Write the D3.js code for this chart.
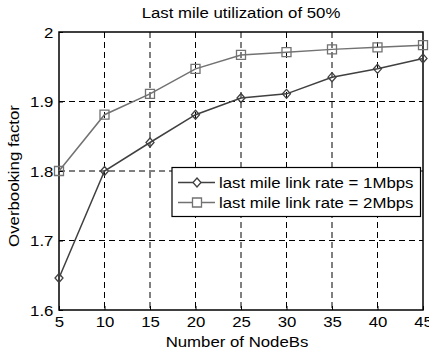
<!DOCTYPE html>
<html><head><meta charset="utf-8">
<script src="https://cdn.jsdelivr.net/npm/d3@7"></script>
<style>body{margin:0;background:#fff;} text{font-family:"Liberation Sans",Arial,sans-serif;}</style>
</head><body>
<svg id="c" width="429" height="353"></svg>
<script>
const nodeBs = [5,10,15,20,25,30,35,40,45];
const rate1Mbps = [1.646,1.800,1.841,1.881,1.905,1.911,1.935,1.947,1.962];
const rate2Mbps = [1.800,1.881,1.911,1.947,1.967,1.971,1.975,1.978,1.981];
const xTicks = [5,10,15,20,25,30,35,40,45];
const yTicks = [1.6,1.7,1.8,1.9,2.0];
const seriesNames = ["last mile link rate = 1Mbps","last mile link rate = 2Mbps"];

const SX = 1.12, FS = 15;
const svg = d3.select("#c");
const L=59,R=423,T=32,B=310;
const x = d3.scaleLinear().domain([5,45]).range([L,R]);
const y = d3.scaleLinear().domain([1.6,2.0]).range([B,T]);

svg.append("rect").attr("width",429).attr("height",353).attr("fill","#fff");

// grid
const g = svg.append("g");
xTicks.slice(1,-1).forEach(t=>g.append("line").attr("x1",x(t)).attr("x2",x(t)).attr("y1",T).attr("y2",B)
  .attr("stroke","#000").attr("stroke-width",1).attr("stroke-dasharray","6,4"));
yTicks.slice(1,-1).forEach(t=>g.append("line").attr("x1",L).attr("x2",R).attr("y1",y(t)).attr("y2",y(t))
  .attr("stroke","#000").attr("stroke-width",1).attr("stroke-dasharray","6,4"));

// axes
const xa = svg.append("g").attr("transform",`translate(0,${B})`).call(d3.axisBottom(x).tickValues(xTicks).tickSize(-4).tickSizeOuter(0).tickFormat(d3.format("d")));
const ya = svg.append("g").attr("transform",`translate(${L},0)`).call(d3.axisLeft(y).tickValues(yTicks).tickSize(-4).tickSizeOuter(0).tickFormat(d=>d===2?"2":d3.format(".1f")(d)));
[xa,ya].forEach(a=>{a.select(".domain").remove();a.selectAll("line").attr("stroke","#000");a.selectAll("text").attr("font-size",FS).attr("fill","#000").attr("font-family","Liberation Sans, Arial, sans-serif").attr("transform",`scale(${SX},1)`);});
xa.selectAll("text").attr("dy","0.35em").attr("y",12);
ya.selectAll("text").attr("x",-5).attr("dy","0.35em");
svg.append("rect").attr("x",L).attr("y",T).attr("width",R-L).attr("height",B-T).attr("fill","none").attr("stroke","#000").attr("stroke-width",1.5);

const colors = ["#404040","#727272"];
const line = d3.line().x((d,i)=>x(nodeBs[i])).y(d=>y(d));
const diamond = (cx,cy)=>`M${cx},${cy-4.5}L${cx+4},${cy}L${cx},${cy+4.5}L${cx-4},${cy}Z`;
const square = (cx,cy)=>`M${cx-4.5},${cy-4.5}h9v9h-9Z`;
[[rate1Mbps,diamond],[rate2Mbps,square]].forEach(([data,mk],k)=>{
  svg.append("path").datum(data).attr("d",line).attr("fill","none").attr("stroke",colors[k]).attr("stroke-width",1.5);
  data.forEach((d,i)=>svg.append("path").attr("d",mk(x(nodeBs[i]),y(d))).attr("fill","none").attr("stroke",colors[k]).attr("stroke-width",1.3));
});

function txt(px,py,s,anchor,rot){
  const tr = rot ? `translate(${px},${py}) rotate(-90) scale(${SX},1)` : `translate(${px},${py}) scale(${SX},1)`;
  return svg.append("text").attr("transform",tr).attr("text-anchor",anchor).attr("dy","0.35em").attr("font-size",FS).text(s);
}

// legend
svg.append("rect").attr("x",172).attr("y",167.5).attr("width",248.5).attr("height",49).attr("fill","#fff").attr("stroke","#000").attr("stroke-width",1.2);
[diamond,square].forEach((mk,k)=>{
  const cy = 182.5+ k*20;
  svg.append("line").attr("x1",178).attr("x2",215).attr("y1",cy).attr("y2",cy).attr("stroke",colors[k]).attr("stroke-width",1.5);
  svg.append("path").attr("d",mk(197,cy)).attr("fill","#fff").attr("stroke",colors[k]).attr("stroke-width",1.3);
  txt(219,cy,seriesNames[k],"start");
});

txt((L+R)/2,13,"Last mile utilization of 50%","middle");
txt(237,342,"Number of NodeBs","middle");
txt(14,176,"Overbooking factor","middle",true);
</script>
</body></html>
